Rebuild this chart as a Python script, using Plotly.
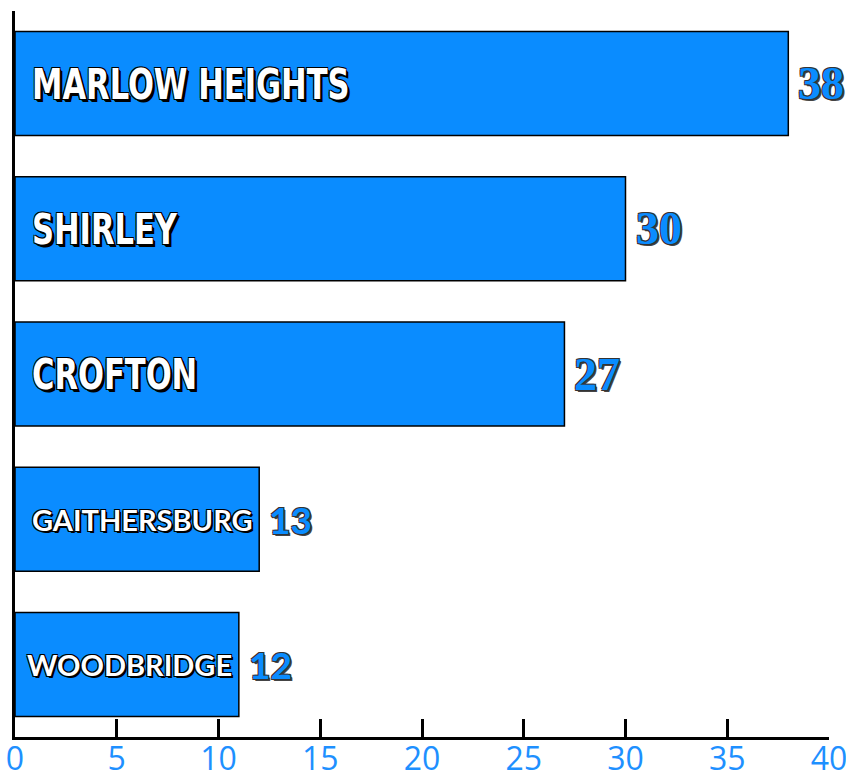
import json
import plotly.graph_objects as go

categories = ["MARLOW HEIGHTS", "SHIRLEY", "CROFTON", "GAITHERSBURG", "WOODBRIDGE"]
bar_values = [38, 30, 27, 12, 11]
value_labels = ["38", "30", "27", "13", "12"]
tick_values = [0, 5, 10, 15, 20, 25, 30, 35, 40]

BLUE = "#0A8CFF"
TICK_BLUE = "#1E90FF"

big_font = dict(family="DejaVu Sans Condensed",
                size=43, color="white", weight="bold",
                shadow="-1px -1px 0 #000, 1px -1px 0 #000, -1px 1px 0 #000, 1px 1px 0 #000, 2px 2px 0 #000, 3px 3px 0 #000")
small_font = dict(family="Lato", size=29, color="white", weight="bold",
                  shadow="-1px -1px 0 #000, 1px -1px 0 #000, -1px 1px 0 #000, 1px 1px 0 #000, 2px 2px 0 #000")
val_big_font = dict(family="Liberation Serif", size=46, color=BLUE, weight="bold",
                    shadow="-1px -1px 0 #333, 1px -1px 0 #333, -1px 1px 0 #333, 1px 1px 0 #333, 2px 2px 0 #444")
val_small_font = dict(family="Lato", size=37, color=BLUE, weight="bold",
                      shadow="-1px -1px 0 #333, 1px -1px 0 #333, -1px 1px 0 #333, 1px 1px 0 #333, 2px 2px 0 #444")

fig = go.Figure()
fig.add_trace(go.Bar(
    x=bar_values,
    y=list(range(len(categories))),
    orientation="h",
    marker=dict(color=BLUE, line=dict(color="black", width=1.5)),
    width=0.716,
    hoverinfo="skip",
))

annotations = []
for i, (cat, v, lab) in enumerate(zip(categories, bar_values, value_labels)):
    big = i < 3
    annotations.append(dict(
        x=0, y=i, xref="x", yref="y", text=cat, showarrow=False,
        xanchor="left", yanchor="middle", xshift=15 if i < 4 else 10,
        font=big_font if big else small_font,
    ))
    annotations.append(dict(
        x=v, y=i, xref="x", yref="y", text=lab, showarrow=False,
        xanchor="left", yanchor="middle", xshift=8,
        font=val_big_font if big else val_small_font,
    ))

fig.update_layout(
    width=846, height=778,
    margin=dict(l=15, r=17, t=11, b=41, autoexpand=False),
    paper_bgcolor="white", plot_bgcolor="white",
    showlegend=False,
    annotations=annotations,
    xaxis=dict(
        range=[0, 40], tickvals=tick_values, ticktext=[str(t) for t in tick_values],
        ticks="inside", ticklen=18, tickwidth=2.5, tickcolor="black",
        showline=True, linecolor="black", linewidth=3,
        showgrid=False, zeroline=False, automargin=False,
        ticklabeloverflow="allow", ticklabelstandoff=-8,
        tickfont=dict(family="Open Sans", size=32, color=TICK_BLUE),
    ),
    yaxis=dict(
        range=[4.5, -0.5], showticklabels=False, ticks="",
        showline=True, linecolor="black", linewidth=3,
        showgrid=False, zeroline=False, automargin=False,
    ),
)

# Condense the three large in-bar labels horizontally (Impact-like look)
post = """
var gd = document.getElementById('{plot_id}');
var names = %s;
gd.querySelectorAll('g.annotation text').forEach(function(t){
  if (names.indexOf(t.textContent) >= 0) {
    t.style.transformBox = 'fill-box';
    t.style.transformOrigin = '0%% 50%%';
    t.style.transform = 'scaleX(0.79)';
  }
});
""" % json.dumps(categories[:3])

fig.write_html("out.html", post_script=post)
